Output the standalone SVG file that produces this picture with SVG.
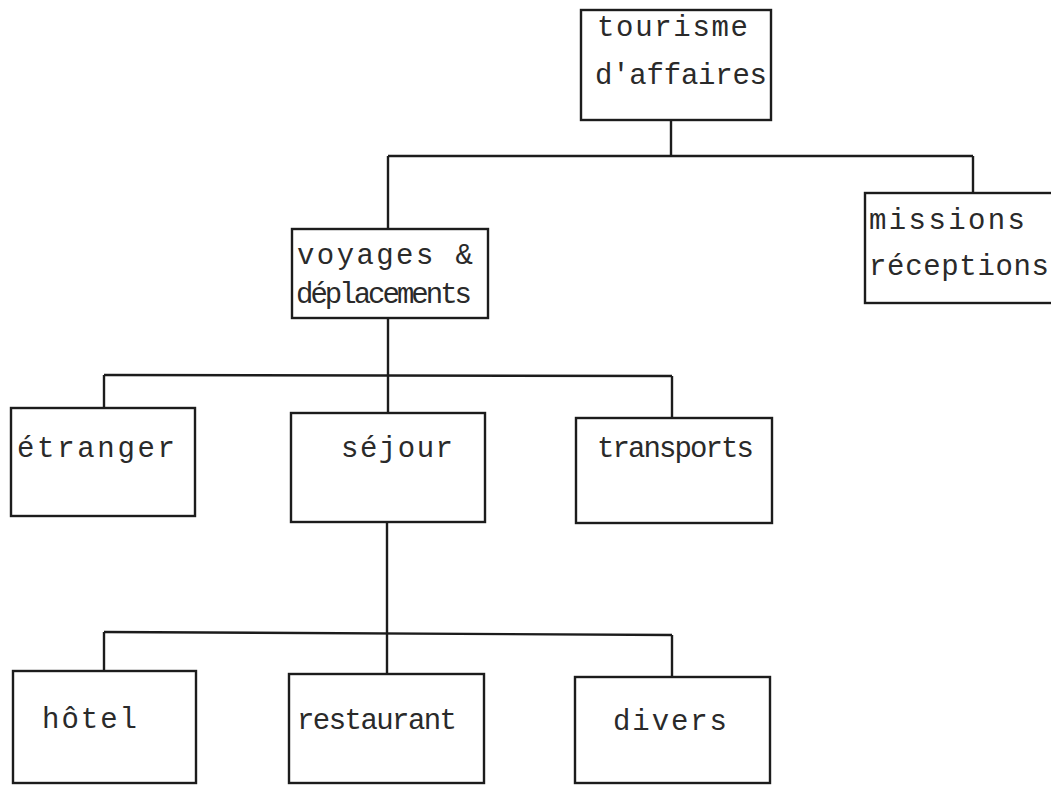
<svg xmlns="http://www.w3.org/2000/svg" width="1051" height="785" viewBox="0 0 1051 785">
<style>
.box{fill:none;stroke:#1c1c1c;stroke-width:2.4}
.c line{stroke:#1c1c1c;stroke-width:2.4}
text{font-family:"Liberation Mono","Courier New",monospace;font-size:29px;fill:#2a2a2a}
</style>
<rect width="1051" height="785" fill="#ffffff"/>
<g class="c" id="connectors">
<line x1="671" y1="120" x2="671" y2="156"/>
<line x1="388" y1="156" x2="973" y2="156"/>
<line x1="388" y1="156" x2="388" y2="229"/>
<line x1="973" y1="156" x2="973" y2="193"/>
<line x1="388" y1="318" x2="388" y2="375"/>
<line x1="104" y1="375" x2="672" y2="376"/>
<line x1="104" y1="375" x2="104" y2="408"/>
<line x1="388" y1="375" x2="388" y2="413"/>
<line x1="672" y1="376" x2="672" y2="418"/>
<line x1="387" y1="522" x2="387" y2="633"/>
<line x1="104" y1="632" x2="672" y2="635"/>
<line x1="104" y1="632" x2="104" y2="671"/>
<line x1="387" y1="633" x2="387" y2="674"/>
<line x1="672" y1="635" x2="672" y2="677"/>
</g>
<g id="tourisme"><rect class="box" x="581" y="10" width="190" height="110"/>
<text x="597" y="36" textLength="151" lengthAdjust="spacing">tourisme</text>
<text x="595" y="84" textLength="172" lengthAdjust="spacing">d'affaires</text></g>
<g id="missions"><rect class="box" x="865" y="193" width="200" height="110"/>
<text x="869" y="229" textLength="156" lengthAdjust="spacing">missions</text>
<text x="869" y="275" textLength="180" lengthAdjust="spacing">réceptions</text></g>
<g id="voyages"><rect class="box" x="292" y="229" width="196" height="89"/>
<text x="297" y="264" textLength="176" lengthAdjust="spacing">voyages &amp;</text>
<text x="296" y="303" textLength="176" lengthAdjust="spacing">déplacements</text></g>
<g id="etranger"><rect class="box" x="11" y="408" width="184" height="108"/>
<text x="17" y="457" textLength="158" lengthAdjust="spacing">étranger</text></g>
<g id="sejour"><rect class="box" x="291" y="413" width="194" height="109"/>
<text x="341" y="457" textLength="112" lengthAdjust="spacing">séjour</text></g>
<g id="transports"><rect class="box" x="576" y="418" width="196" height="105"/>
<text x="597" y="457" textLength="157" lengthAdjust="spacing">transports</text></g>
<g id="hotel"><rect class="box" x="13" y="671" width="183" height="112"/>
<text x="42" y="728" textLength="95" lengthAdjust="spacing">hôtel</text></g>
<g id="restaurant"><rect class="box" x="289" y="674" width="195" height="109"/>
<text x="297" y="729" textLength="160" lengthAdjust="spacing">restaurant</text></g>
<g id="divers"><rect class="box" x="575" y="677" width="195" height="106"/>
<text x="613" y="730" textLength="114" lengthAdjust="spacing">divers</text></g>
</svg>
